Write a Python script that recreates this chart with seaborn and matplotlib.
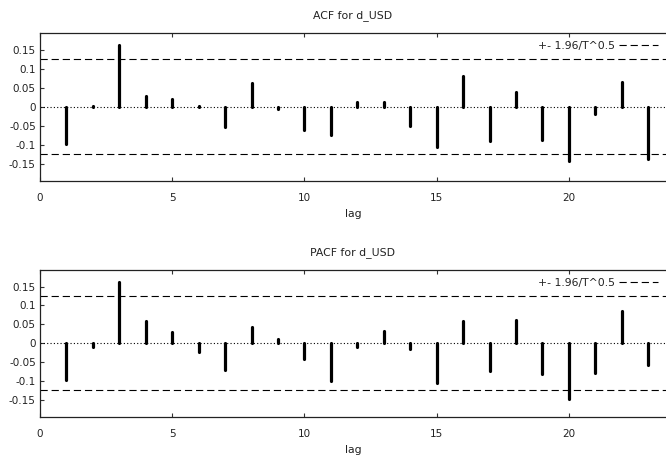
import numpy as np
import matplotlib
matplotlib.use("Agg")
import matplotlib.pyplot as plt
import seaborn as sns

# correlogram values
lags = list(range(1, 24))
acf_vals = [-0.098, 0.002, 0.162, 0.028, 0.021, 0.002, -0.054, 0.063, -0.005, -0.060, -0.075,
            0.013, 0.013, -0.051, -0.105, 0.082, -0.089, 0.040, -0.086, -0.143, -0.018, 0.066, -0.138]
pacf_vals = [-0.098, -0.010, 0.161, 0.059, 0.029, -0.024, -0.072, 0.042, 0.011, -0.041, -0.100,
             -0.010, 0.031, -0.016, -0.105, 0.058, -0.074, 0.061, -0.083, -0.148, -0.078, 0.085, -0.057]
conf = 0.125  # 1.96/sqrt(T)
titles = ["ACF for d_USD", "PACF for d_USD"]
yticks = [-0.15, -0.1, -0.05, 0, 0.05, 0.1, 0.15]
ytick_labels = ["-0.15", "-0.1", "-0.05", "0", "0.05", "0.1", "0.15"]
xticks = [0, 5, 10, 15, 20]

sns.set_style("ticks")
plt.rcParams["font.family"] = ["DejaVu Sans"]
plt.rcParams["font.size"] = 7.5

fig = plt.figure(figsize=(6.66, 4.59), dpi=100)
ax1 = fig.add_axes([0.060, 0.6057, 0.94, 0.3224])
ax2 = fig.add_axes([0.060, 0.0922, 0.94, 0.3196])

for ax, vals, title in [(ax1, acf_vals, titles[0]), (ax2, pacf_vals, titles[1])]:
    ax.axhline(0, color="black", lw=0.8, ls=(0, (1, 2)), zorder=1)
    ax.axhline(conf, color="black", lw=0.8, ls=(0, (6.5, 3.5)), label="+- 1.96/T^0.5", zorder=1)
    ax.axhline(-conf, color="black", lw=0.8, ls=(0, (6.5, 3.5)), zorder=1)
    ax.vlines(lags, 0, vals, color="black", lw=2.3, capstyle="round", zorder=2)
    ax.set_xlim(0, 23.67)
    ax.set_ylim(-0.195, 0.194)
    ax.set_xticks(xticks)
    ax.set_yticks(yticks)
    ax.set_yticklabels(ytick_labels)
    ax.tick_params(direction="in", length=3, width=0.8, color="#333333",
                   labelcolor="#222222", top=True, pad=9)
    ax.tick_params(axis="y", pad=3)
    for side in ["left", "top", "bottom"]:
        ax.spines[side].set_color("#222222")
        ax.spines[side].set_linewidth(0.9)
    ax.spines["right"].set_visible(False)
    ax.set_title(title, fontsize=7.8, color="#222222", pad=11)
    ax.set_xlabel("lag", fontsize=7.8, color="#222222", labelpad=4)
    ax.legend(loc="upper right", frameon=False, markerfirst=False, handlelength=3.6,
              fontsize=7.8, borderaxespad=0.35, borderpad=0.4, handletextpad=0.4,
              labelcolor="#222222")

plt.savefig("out.png", dpi=100)
plt.close()
